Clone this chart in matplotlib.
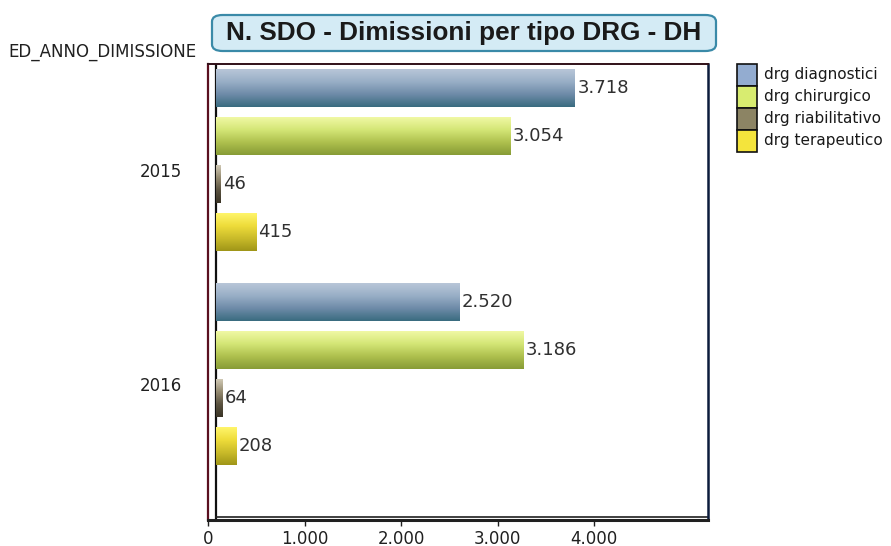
import matplotlib
matplotlib.use("Agg")
import os
import matplotlib.pyplot as plt
import numpy as np
from matplotlib import font_manager
from matplotlib.patches import FancyBboxPatch, Rectangle
from matplotlib.colors import LinearSegmentedColormap
from matplotlib.ticker import FuncFormatter

# ---- data ----
years = ["2015", "2016"]
series = ["drg diagnostici", "drg chirurgico", "drg riabilitativo", "drg terapeutico"]
values_2015 = [3718, 3054, 46, 415]
values_2016 = [2520, 3186, 64, 208]
x_ticks = [0, 1000, 2000, 3000, 4000]

# ---- styling ----
legend_colors = ["#93acd0", "#d8ec70", "#8c8464", "#f4e43c"]
bar_gradients = [
    ["#b8c6d8", "#98aec6", "#6e8ba8", "#3a6c80"],
    ["#f0f8a4", "#d4e676", "#aec04e", "#889c36"],
    ["#cfc8b4", "#948a70", "#5a5240", "#3a3426"],
    ["#fff56a", "#eedc3a", "#cabb2a", "#a09618"],
]


def fmt_it(v, _pos=None):
    return f"{int(v):,}".replace(",", ".")


def bold_title_font(size):
    # prefer the regular-width Arial-metric bold face
    for path in font_manager.findSystemFonts():
        if os.path.basename(path) == "LiberationSans-Bold.ttf":
            return font_manager.FontProperties(fname=path, size=size)
    return font_manager.FontProperties(family="DejaVu Sans", weight="bold", size=size)


fig = plt.figure(figsize=(8.91, 5.46), dpi=100)
fig.patch.set_facecolor("white")

W, H = 891, 546
ax = fig.add_axes([208 / W, 1 - 520 / H, 500 / W, 456 / H])

depth = 83            # back-wall offset in data units (pseudo 3D)
group_step = 4.46
bar_step = 1.0
bar_h = 0.78

all_vals = [values_2015, values_2016]
for gi, vals in enumerate(all_vals):
    for si, v in enumerate(vals):
        yc = gi * group_step + si * bar_step
        cmap = LinearSegmentedColormap.from_list(f"g{gi}{si}", bar_gradients[si])
        grad = np.linspace(0, 1, 64).reshape(-1, 1)
        ax.imshow(grad, cmap=cmap, aspect="auto", origin="upper",
                  extent=(depth, depth + v, yc + bar_h / 2, yc - bar_h / 2),
                  zorder=3, interpolation="bilinear")
        ax.text(depth + v + 25, yc, fmt_it(v), va="center", ha="left",
                fontsize=13, color="#303030", family="DejaVu Sans", zorder=4)

# back wall lines (partly hidden by the bars)
ax.axvline(depth, color="#101010", lw=1.6, zorder=2)
ax.axhline(9.0 - 0.07, xmin=depth / 5181, color="#202020", lw=1.2, zorder=2)

ax.set_xlim(0, 5181)
ax.set_ylim(9.0, -0.5)

ax.set_xticks(x_ticks)
ax.xaxis.set_major_formatter(FuncFormatter(fmt_it))
ax.tick_params(axis="x", direction="out", length=4, width=1, labelsize=12,
               colors="#202020", pad=3)

ax.set_yticks([gi * group_step + 1.7 for gi in range(len(years))])
ax.set_yticklabels(years)
ax.tick_params(axis="y", length=0, labelsize=12, colors="#202020", pad=18.5)

ax.spines["left"].set_color("#5a1020")
ax.spines["left"].set_linewidth(1.6)
ax.spines["top"].set_color("#301018")
ax.spines["top"].set_linewidth(1.4)
ax.spines["right"].set_color("#0c1c3c")
ax.spines["right"].set_linewidth(1.8)
ax.spines["bottom"].set_color("#202020")
ax.spines["bottom"].set_linewidth(2.2)

# axis title at the top-left
fig.text(8 / W, 1 - 52 / H, "ED_ANNO_DIMISSIONE", fontsize=12, va="center",
         ha="left", color="#202020", family="DejaVu Sans")

# title box
box = FancyBboxPatch((212 / W, 1 - 51 / H), 504 / W, 36 / H,
                     boxstyle="round,pad=0,rounding_size=0.012",
                     transform=fig.transFigure, facecolor="#d4ebf5",
                     edgecolor="#3a8aa8", lw=1.6)
fig.patches.append(box)
fig.text(464 / W, 1 - 33 / H, "N. SDO - Dimissioni per tipo DRG - DH",
         fontproperties=bold_title_font(18.8),
         ha="center", va="center", color="#1a1a1a")

# legend: swatches stacked without gaps
for i, (name, col) in enumerate(zip(series, legend_colors)):
    top = 64 + 22 * i
    fig.patches.append(Rectangle((737 / W, 1 - (top + 22) / H), 20 / W, 22 / H,
                                 transform=fig.transFigure, facecolor=col,
                                 edgecolor="#101010", lw=1.2))
    fig.text(764 / W, 1 - (top + 11) / H, name, fontsize=11, va="center",
             ha="left", color="#1a1a1a", family="DejaVu Sans")

fig.savefig("out.png", dpi=100)
